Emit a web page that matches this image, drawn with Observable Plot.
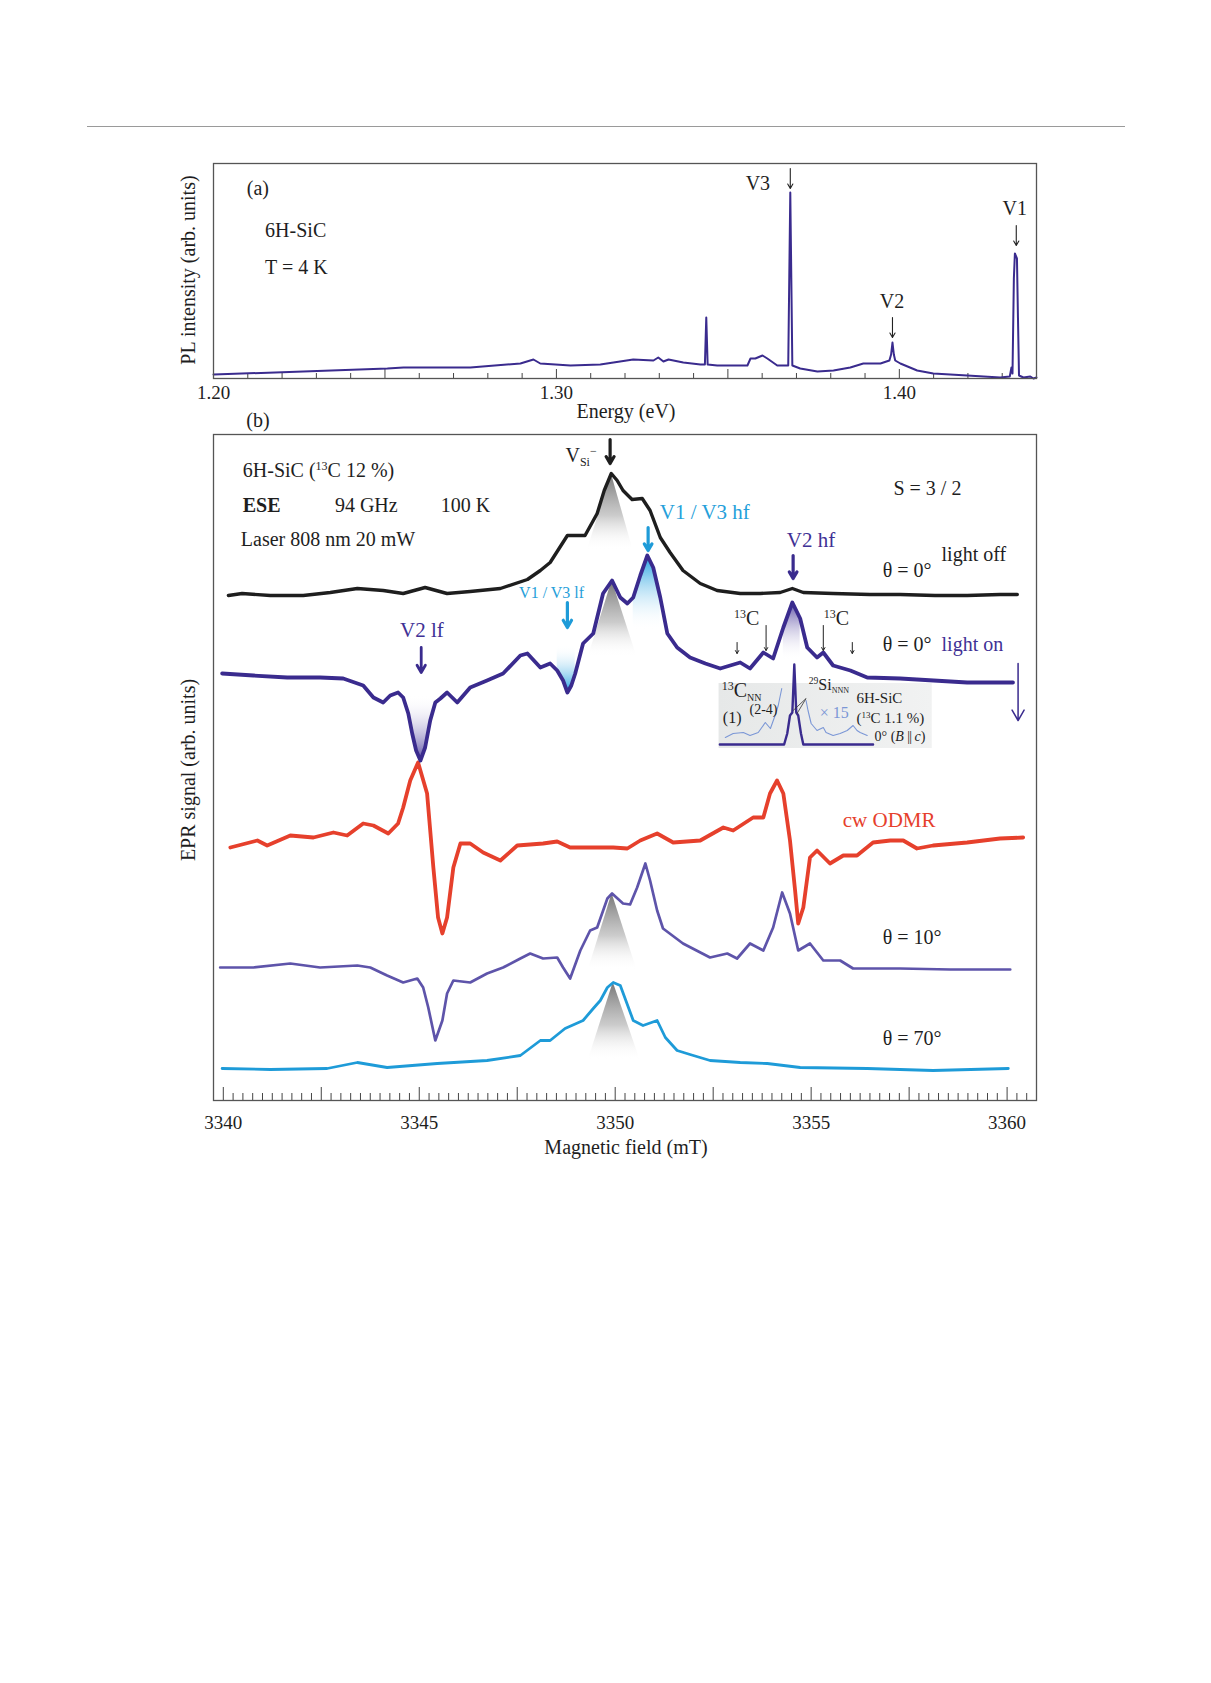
<!DOCTYPE html>
<html><head><meta charset="utf-8">
<script src="https://cdn.jsdelivr.net/npm/d3@7"></script>
<script src="https://cdn.jsdelivr.net/npm/@observablehq/plot@0.6"></script>
<style>
body{margin:0;background:#fff;}
#page{position:relative;width:1211px;height:1683px;background:#fff;overflow:hidden;font-family:"Liberation Serif","Times New Roman",serif;color:#222;}
.lbl{position:absolute;white-space:nowrap;line-height:1;}
.sp{position:relative;top:-0.6em;font-size:0.6em;}
.sb{position:relative;top:0.35em;font-size:0.6em;}
.sb2{position:relative;top:0.35em;font-size:0.5em;}
.rule{position:absolute;left:87px;top:126px;width:1038px;height:1px;background:#9a9a9a;}
</style></head><body>
<div id="page">
<div class="rule"></div>
<svg width="0" height="0" style="position:absolute;left:0;top:0">
<defs>
<linearGradient id="gTri" x1="0" y1="0" x2="0" y2="1">
 <stop offset="0" stop-color="#6e6e6e" stop-opacity="0.95"/>
 <stop offset="0.55" stop-color="#a9a9a9" stop-opacity="0.6"/>
 <stop offset="1" stop-color="#ffffff" stop-opacity="0"/>
</linearGradient>
<linearGradient id="gCyanDown" x1="0" y1="0" x2="0" y2="1">
 <stop offset="0" stop-color="#1e9fe0" stop-opacity="1"/>
 <stop offset="1" stop-color="#ffffff" stop-opacity="0"/>
</linearGradient>
<linearGradient id="gCyanUp" x1="0" y1="0" x2="0" y2="1">
 <stop offset="0" stop-color="#ffffff" stop-opacity="0"/>
 <stop offset="1" stop-color="#1e9fe0" stop-opacity="1"/>
</linearGradient>
<linearGradient id="gPurpleUp" x1="0" y1="0" x2="0" y2="1">
 <stop offset="0" stop-color="#ffffff" stop-opacity="0"/>
 <stop offset="1" stop-color="#4b3c9c" stop-opacity="0.9"/>
</linearGradient>
<linearGradient id="gPurpleDown" x1="0" y1="0" x2="0" y2="1">
 <stop offset="0" stop-color="#4b3c9c" stop-opacity="0.9"/>
 <stop offset="1" stop-color="#ffffff" stop-opacity="0"/>
</linearGradient>
<linearGradient id="gInset" x1="0" y1="0" x2="1" y2="0">
 <stop offset="0" stop-color="#e6e8e8"/>
 <stop offset="1" stop-color="#f1f2f2"/>
</linearGradient>
</defs>
</svg>
</div>
<script>
// ---------------- DATA ----------------
// Panel (a): PL spectrum
const plEnergy = [1.2000,1.2262,1.2507,1.2554,1.2749,1.2895,1.2933,1.2953,1.3041,1.3128,1.3224,1.3283,1.3297,1.3312,1.3327,1.3370,1.3420,1.3433,1.3437,1.3441,1.3469,1.3557,1.3566,1.3580,1.3601,1.3615,1.3644,1.3673,1.3676,1.3679,1.3682,1.3685,1.3688,1.3711,1.3761,1.3808,1.3857,1.3895,1.3945,1.3971,1.3976,1.3980,1.3984,1.3988,1.4003,1.4052,1.4099,1.4198,1.4294,1.4322,1.4327,1.4330,1.4334,1.4337,1.4343,1.4346,1.4349,1.4362,1.4382,1.4391,1.4400];
const plIntensity = [4,7,10,11,11,15,19,15,13,14,19,18,21,17,19,16,14,14,61,14,13,13,20,20,23,20,13,13,13,100,186,100,13,10,7,8,11,15,15,18,24,36,24,18,15,8,5,3,1,2,11,5,100,125,120,60,3,1,2,0,1];
const energyTickLabels = [1.20, 1.30, 1.40];

// Panel (b): EPR traces (field in mT, signal in arb. units incl. vertical offset)
const offField = [3340.13,3340.48,3341.20,3342.04,3342.73,3343.42,3344.08,3344.59,3345.15,3345.71,3346.30,3347.07,3347.76,3348.09,3348.34,3348.78,3349.23,3349.54,3349.72,3349.90,3350.05,3350.20,3350.43,3350.69,3350.89,3351.15,3351.40,3351.73,3352.17,3352.60,3353.19,3353.70,3354.21,3354.52,3354.80,3355.56,3356.50,3357.27,3358.16,3358.98,3359.82,3360.26];
const offSignal = [505,507,505,505,508,512,510,507,513,507,509,512,521,530,538,565,565,587,610,627,620,610,601,602,590,563,548,530,517,510,507,507,508,512,508,507,506,506,505,505,506,506];

const onField = [3339.97,3340.77,3341.63,3342.47,3343.06,3343.57,3343.83,3344.08,3344.26,3344.46,3344.59,3344.72,3344.82,3344.92,3345.03,3345.15,3345.28,3345.41,3345.54,3345.71,3345.97,3346.30,3346.73,3347.14,3347.58,3347.76,3348.09,3348.34,3348.52,3348.67,3348.78,3348.88,3348.98,3349.18,3349.44,3349.69,3349.92,3350.13,3350.31,3350.46,3350.64,3350.82,3350.97,3351.15,3351.33,3351.58,3351.91,3352.30,3352.68,3353.19,3353.44,3353.78,3354.03,3354.29,3354.52,3354.72,3354.90,3355.15,3355.31,3355.56,3356.00,3356.43,3357.27,3358.98,3360.15];
const onSignal = [427,425,423,423,422,415,403,398,405,408,403,387,367,350,340,353,380,398,402,408,398,413,420,427,445,447,433,437,430,420,408,415,427,457,467,507,520,503,497,503,525,545,533,503,467,453,443,437,432,438,432,448,442,473,498,482,453,443,448,435,430,423,422,418,418];

const odmrField = [3340.18,3340.87,3341.12,3341.71,3342.30,3342.81,3343.16,3343.57,3343.83,3344.21,3344.46,3344.59,3344.77,3344.97,3345.20,3345.36,3345.48,3345.59,3345.71,3345.87,3346.05,3346.30,3346.63,3347.07,3347.50,3348.16,3348.52,3348.85,3349.44,3349.95,3350.31,3350.64,3351.07,3351.48,3352.17,3352.76,3353.01,3353.52,3353.78,3353.95,3354.13,3354.29,3354.46,3354.59,3354.67,3354.80,3354.97,3355.15,3355.48,3355.82,3356.17,3356.58,3357.02,3357.35,3357.70,3358.11,3358.98,3359.82,3360.41];
const odmrSignal = [253,260,255,265,263,268,265,277,275,267,277,293,320,338,307,233,183,167,183,233,257,257,248,240,255,257,259,253,253,253,252,260,267,258,260,273,270,283,283,307,320,307,260,210,177,193,243,250,237,245,245,258,260,260,252,255,258,262,263];

const tenField = [3339.92,3340.77,3341.71,3342.47,3343.42,3343.75,3344.18,3344.59,3344.95,3345.10,3345.23,3345.41,3345.59,3345.71,3345.87,3346.30,3346.73,3347.14,3347.58,3347.83,3348.16,3348.52,3348.67,3348.85,3349.11,3349.36,3349.54,3349.80,3349.92,3350.20,3350.38,3350.56,3350.77,3350.89,3351.07,3351.22,3351.73,3352.42,3352.86,3353.11,3353.44,3353.78,3354.03,3354.26,3354.46,3354.67,3354.97,3355.31,3355.74,3356.07,3357.27,3358.55,3360.08];
const tenSignal = [133,133,137,133,135,133,125,118,122,113,93,60,80,107,120,118,127,133,142,147,142,143,133,122,150,170,173,202,207,197,196,213,237,220,190,172,157,143,147,142,157,150,173,208,187,150,157,140,140,132,132,131,131];

const sevField = [3339.97,3341.20,3342.65,3343.42,3344.18,3345.46,3346.73,3347.58,3348.09,3348.34,3348.72,3349.18,3349.44,3349.62,3349.80,3349.95,3350.13,3350.46,3350.71,3351.07,3351.28,3351.58,3351.91,3352.42,3353.19,3353.88,3354.72,3356.43,3358.11,3360.03];
const sevSignal = [32,31,32,38,33,37,40,45,60,60,72,80,92,100,113,118,115,80,75,80,63,50,46,40,38,37,33,32,30,32];

// Inset (6H-SiC, 13C 1.1 %)
const insetField = [3352.67,3354.31,3354.39,3354.46,3354.52,3354.57,3354.62,3354.67,3354.74,3354.80,3356.58];
const insetSignal = [356,356,367,385,388,436,388,385,367,356,356];
const x15LeftField = [3352.81,3353.01,3353.27,3353.44,3353.65,3353.83,3353.96,3354.08,3354.16,3354.25];
const x15LeftSignal = [363,367,368,365,368,378,372,385,395,412];
const x15RightField = [3354.87,3354.92,3355.00,3355.15,3355.31,3355.38,3355.56,3355.74,3355.92,3356.07,3356.17,3356.25,3356.43];
const x15RightSignal = [400,390,377,370,373,368,365,367,370,375,370,368,365];
const insetBox = [{f1:3352.65, f2:3358.09, s1:352, s2:417}];
const fieldTickLabels = [3340, 3345, 3350, 3355, 3360];

// Shaded peak markers (apex field/signal, base signal, base extent)
const triApexField = [3349.90, 3349.92, 3349.92, 3349.95];
const triApexSignal = [627, 520, 207, 118];
const triBaseSignal = [550, 443, 130, 40];
const triLeftField = [3349.29, 3349.31, 3349.31, 3349.31];
const triRightField = [3350.46, 3350.56, 3350.56, 3350.64];

// Coloured fills on the light-on trace
const fills = [
  {from:3344.70, to:3345.45, base:405, grad:"gPurpleUp"},
  {from:3348.50, to:3349.00, base:455, grad:"gCyanUp"},
  {from:3350.45, to:3351.16, base:470, grad:"gCyanDown"},
  {from:3354.25, to:3354.75, base:440, grad:"gPurpleDown"}
];

// ---------------- STYLE ----------------
const FONT = '"Liberation Serif","Times New Roman",serif';
const C = {ink:"#1e1e1e", purple:"#3a2b8e", purpleMid:"#5e54aa", red:"#e6402c", cyan:"#1e9bd8",
  cyanText:"#25a0da", purpleText:"#3f3195", inset:"#7b97d6", frame:"#555"};

const rows = (F, S) => F.map((f, i) => ({f, s: S[i]}));

// Annotation arrows
const arrowsA = [
  {e:1.3682, s1:210, s2:190},
  {e:1.4341, s1:153, s2:133},
  {e:1.3980, s1:61, s2:41}
];
const arrowsB = [
  {f:3349.87, s1:661, s2:637, color:C.ink, w:3.2, head:15},
  {f:3350.84, s1:573, s2:550, color:C.cyan, w:3.2, head:15},
  {f:3348.78, s1:498, s2:473, color:C.cyan, w:3.2, head:15},
  {f:3354.54, s1:545, s2:522, color:C.purple, w:3.2, head:15},
  {f:3345.05, s1:453, s2:428, color:C.purple, w:2.8, head:15},
  {f:3353.11, s1:458, s2:447, color:"#222", w:1, head:5},
  {f:3353.85, s1:475, s2:450, color:"#222", w:1, head:5},
  {f:3355.31, s1:475, s2:450, color:"#222", w:1, head:5},
  {f:3356.05, s1:458, s2:447, color:"#222", w:1, head:5},
  {f:3360.28, s1:437, s2:380, color:C.purple, w:1.5, head:12}
];
const pointerLines = [
  {f1:3354.87, s1:402, f2:3354.54, s2:390},
  {f1:3354.87, s1:402, f2:3354.64, s2:387}
];

// Text labels (data coordinates)
const labelsA = [
  {x:1.2131, y:190, html:"(a)", anchor:"middle"},
  {x:1.2152, y:148, html:"6H-SiC", anchor:"start"},
  {x:1.2152, y:111, html:"T = 4 K", anchor:"start"},
  {x:1.3589, y:195, html:"V3", anchor:"middle"},
  {x:1.4338, y:170, html:"V1", anchor:"middle"},
  {x:1.3980, y:77, html:"V2", anchor:"middle"}
];
const labelsB = [
  {x:3340.51, y:630, html:'6H-SiC (<span class="sp">13</span>C 12 %)'},
  {x:3340.51, y:595, html:"<b>ESE</b>"},
  {x:3342.86, y:595, html:"94 GHz"},
  {x:3345.56, y:595, html:"100 K"},
  {x:3340.46, y:561, html:"Laser 808 nm 20 mW"},
  {x:3349.54, y:645, html:'V<span class="sb">Si</span><span class="sp">&minus;</span>', anchor:"end"},
  {x:3357.98, y:612, html:"S = 3 / 2", anchor:"middle"},
  {x:3351.15, y:588, html:"V1 / V3 hf", color:C.cyanText, size:21},
  {x:3354.39, y:560, html:"V2 hf", color:C.purpleText, size:21},
  {x:3356.84, y:530, html:"θ = 0°"},
  {x:3358.34, y:546, html:"light off"},
  {x:3353.37, y:482, html:'<span class="sp">13</span>C', anchor:"middle"},
  {x:3355.66, y:482, html:'<span class="sp">13</span>C', anchor:"middle"},
  {x:3356.84, y:456, html:"θ = 0°"},
  {x:3358.34, y:456, html:"light on", color:C.purpleText},
  {x:3348.39, y:507, html:"V1 / V3 lf", anchor:"middle", color:C.cyanText, size:16},
  {x:3345.08, y:470, html:"V2 lf", anchor:"middle", color:C.purpleText, size:21},
  {x:3355.82, y:280, html:"cw ODMR", color:C.red, size:21},
  {x:3356.84, y:163, html:"θ = 10°"},
  {x:3356.84, y:62, html:"θ = 70°"},
  // inset
  {x:3352.73, y:410, html:'<span class="sp">13</span>C<span class="sb2">NN</span>', size:20},
  {x:3352.76, y:382, html:"(1)", size:16},
  {x:3353.44, y:390, html:"(2-4)", size:14},
  {x:3354.95, y:415, html:'<span class="sp">29</span>Si<span class="sb2">NNN</span>', size:16},
  {x:3355.23, y:387, html:"× 15", size:16, color:C.inset},
  {x:3356.17, y:402, html:"6H-SiC", size:15},
  {x:3356.17, y:382, html:'(<span class="sp">13</span>C 1.1 %)', size:15},
  {x:3356.63, y:363, html:'0° (<i>B</i> <span style="letter-spacing:-1px">||</span> <i>c</i>)', size:14}
];

// ---------------- BUILD ----------------
const page = document.getElementById("page");
function mount(el, top){
  el.style.position = "absolute"; el.style.left = "0px"; el.style.top = top + "px";
  page.appendChild(el);
}
function addLabel(plot, top, d){
  const div = document.createElement("div");
  div.className = "lbl";
  div.innerHTML = d.html;
  const x = plot.scale("x").apply(d.x), y = top + plot.scale("y").apply(d.y);
  div.style.left = x + "px"; div.style.top = y + "px";
  const tx = d.anchor === "middle" ? "-50%" : d.anchor === "end" ? "-100%" : "0";
  div.style.transform = `translate(${tx},-50%)`;
  div.style.fontSize = (d.size || 20) + "px";
  div.style.color = d.color || C.ink;
  page.appendChild(div);
}
function addFree(x, y, text, size, rotate){
  const div = document.createElement("div");
  div.className = "lbl";
  div.textContent = text;
  div.style.left = x + "px"; div.style.top = y + "px";
  div.style.fontSize = size + "px";
  div.style.color = C.ink;
  div.style.transform = `translate(-50%,-50%)` + (rotate ? " rotate(-90deg)" : "");
  page.appendChild(div);
}

// ----- Panel (a)
const TOP_A = 140;
const plRows = rows(plEnergy, plIntensity);
const aMinor = d3.range(121, 144).filter(i => i % 5 !== 0).map(i => i / 100);
const aMajor = d3.range(125, 144, 5).map(i => i / 100);
const plotA = Plot.plot({
  width: 1211, height: 290, marginTop: 23, marginBottom: 52, marginLeft: 213, marginRight: 175,
  x: {domain: [1.20, 1.44], axis: null},
  y: {domain: [0, 215], axis: null},
  style: {fontFamily: FONT, background: "transparent", overflow: "visible", color: C.ink},
  marks: [
    Plot.tickX(aMinor, {x: d => d, insetTop: 215 - 5, stroke: "#444", strokeWidth: 1}),
    Plot.tickX(aMajor, {x: d => d, insetTop: 215 - 9, stroke: "#444", strokeWidth: 1}),
    Plot.line(plRows, {x: "f", y: "s", stroke: C.purple, strokeWidth: 2, strokeLinejoin: "round"}),
    Plot.frame({stroke: C.frame, strokeWidth: 1.3}),
    Plot.text(energyTickLabels, {x: d => d, frameAnchor: "bottom", dy: 20, text: d => d.toFixed(2), fontSize: 19, fill: C.ink}),
    Plot.arrow(arrowsA, {x1: "e", x2: "e", y1: "s1", y2: "s2", stroke: "#222", strokeWidth: 1.1, headLength: 7})
  ]
});
mount(plotA, TOP_A);
labelsA.forEach(d => addLabel(plotA, TOP_A, d));

// ----- Panel (b)
const TOP_B = 400;
const offRows = rows(offField, offSignal);
const onRows = rows(onField, onSignal);
const odmrRows = rows(odmrField, odmrSignal);
const tenRows = rows(tenField, tenSignal);
const sevRows = rows(sevField, sevSignal);
const insetRows = rows(insetField, insetSignal);
const x15L = rows(x15LeftField, x15LeftSignal);
const x15R = rows(x15RightField, x15RightSignal);
const bTicks = d3.range(0, 83).map(i => ({v: 3340 + i * 0.25, major: i % 10 === 0}));
const FH = 666;

const triMarks = triApexField.map((af, i) => {
  const tri = [
    {f: triLeftField[i], y1: triBaseSignal[i], y2: triBaseSignal[i]},
    {f: af, y1: triBaseSignal[i], y2: triApexSignal[i]},
    {f: triRightField[i], y1: triBaseSignal[i], y2: triBaseSignal[i]}
  ];
  return Plot.areaY(tri, {x: "f", y1: "y1", y2: "y2", fill: "url(#gTri)", curve: "linear"});
});
const fillMarks = fills.map(fl => {
  const sub = onRows.filter(d => d.f >= fl.from && d.f <= fl.to);
  return Plot.areaY(sub, {x: "f", y1: () => fl.base, y2: "s", fill: `url(#${fl.grad})`});
});
const arrowMarks = arrowsB.map(a => Plot.arrow([a], {x1: "f", x2: "f", y1: "s1", y2: "s2",
  stroke: a.color, strokeWidth: a.w, headLength: a.head, strokeLinecap: "round", strokeLinejoin: "round"}));

const lineOpts = (stroke, w) => ({x: "f", y: "s", stroke, strokeWidth: w, strokeLinejoin: "round", strokeLinecap: "round"});

const plotB = Plot.plot({
  width: 1211, height: 780, marginTop: 34, marginBottom: 80, marginLeft: 213, marginRight: 175,
  x: {domain: [3339.75, 3360.75], axis: null},
  y: {domain: [0, FH], axis: null},
  style: {fontFamily: FONT, background: "transparent", overflow: "visible", color: C.ink},
  marks: [
    Plot.rect(insetBox, {x1: "f1", x2: "f2", y1: "s1", y2: "s2", fill: "url(#gInset)"}),
    ...triMarks,
    ...fillMarks,
    Plot.line(odmrRows, lineOpts(C.red, 3.8)),
    Plot.line(tenRows, lineOpts(C.purpleMid, 2.7)),
    Plot.line(sevRows, lineOpts(C.cyan, 2.8)),
    Plot.line(offRows, lineOpts(C.ink, 3.4)),
    Plot.line(onRows, lineOpts(C.purple, 3.8)),
    Plot.line(x15L, lineOpts(C.inset, 1.1)),
    Plot.line(x15R, lineOpts(C.inset, 1.1)),
    Plot.line(insetRows, lineOpts(C.purple, 2.4)),
    Plot.link(pointerLines, {x1: "f1", y1: "s1", x2: "f2", y2: "s2", stroke: "#333", strokeWidth: 0.8}),
    Plot.tickX(bTicks.filter(d => !d.major), {x: "v", insetTop: FH - 7, stroke: "#444", strokeWidth: 1}),
    Plot.tickX(bTicks.filter(d => d.major), {x: "v", insetTop: FH - 13, stroke: "#444", strokeWidth: 1}),
    Plot.frame({stroke: C.frame, strokeWidth: 1.3}),
    Plot.text(fieldTickLabels, {x: d => d, frameAnchor: "bottom", dy: 28, text: d => String(d), fontSize: 19, fill: C.ink}),
    ...arrowMarks
  ]
});
mount(plotB, TOP_B);
labelsB.forEach(d => addLabel(plotB, TOP_B, d));

// Axis titles and panel tags
addFree(188, 270, "PL intensity (arb. units)", 20, true);
addFree(626, 411, "Energy (eV)", 20, false);
addFree(258, 420, "(b)", 20, false);
addFree(188, 770, "EPR signal (arb. units)", 20, true);
addFree(626, 1147, "Magnetic field (mT)", 20, false);
</script>
</body></html>
